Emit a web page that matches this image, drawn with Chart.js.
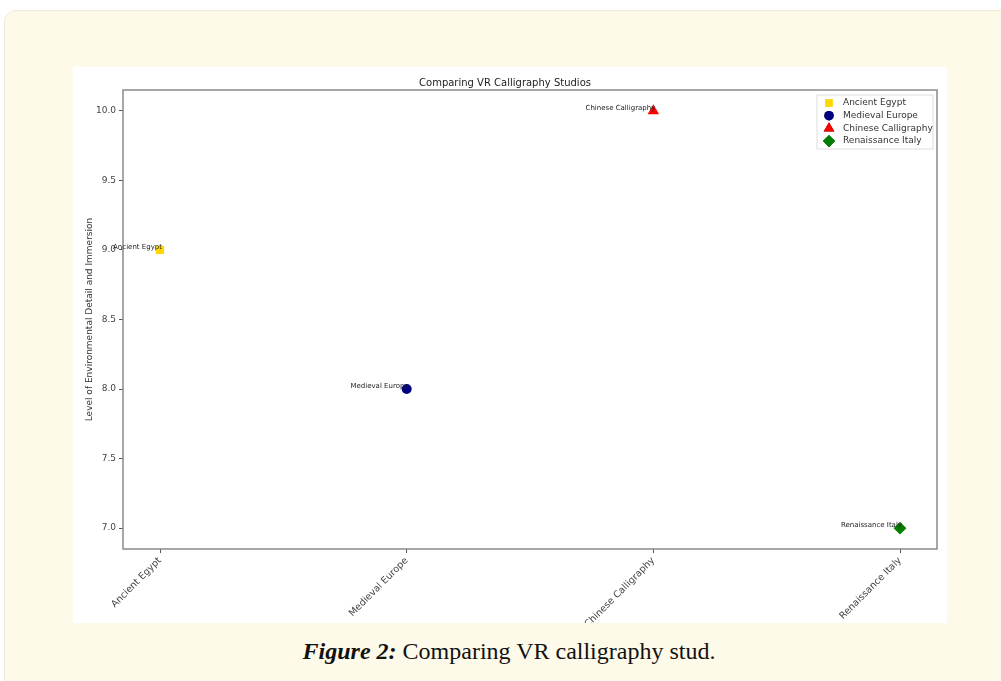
<!DOCTYPE html>
<html>
<head>
<meta charset="utf-8">
<script src="https://cdn.jsdelivr.net/npm/chart.js@4"></script>
<style>
    body { margin: 0; background: #fff; width: 1001px; height: 681px; overflow: hidden; position: relative; font-family: "DejaVu Sans", sans-serif; }
    #panel { position: absolute; left: 4px; top: 10px; width: 1100px; height: 800px; background: #fefae9; border: 1px solid #efead6; border-radius: 12px; }
    #figure { position: absolute; left: 73px; top: 67px; width: 874px; height: 556px; background: #fff; }
    #caption { position: absolute; left: 0; top: 638px; width: 1018px; text-align: center; font-family: "Liberation Serif", "DejaVu Serif", serif; font-size: 24px; color: #111; }
    #caption b { font-style: italic; }
</style>
</head>
<body>
<div id="panel"></div>
<div id="figure"><canvas id="chart" width="874" height="556"></canvas></div>
<div id="caption"><b>Figure 2:</b> Comparing VR calligraphy stud.</div>
<script>
const categories = ['Ancient Egypt', 'Medieval Europe', 'Chinese Calligraphy', 'Renaissance Italy'];
const immersion = [9, 8, 10, 7];
const markerStyles = ['rect', 'circle', 'triangle', 'rectRot'];
const markerColors = ['#ffd700', '#000080', '#ff0000', '#008000'];
const markerSizes = [5.8, 5, 6.6, 6.4];

const datasets = categories.map((name, i) => ({
    label: name,
    data: [{ x: i, y: immersion[i] }],
    pointStyle: markerStyles[i],
    pointRadius: markerSizes[i],
    pointHoverRadius: markerSizes[i],
    backgroundColor: markerColors[i],
    borderColor: markerColors[i],
    borderWidth: 0
}));

// frame round the plot, like matplotlib spines
const framePlugin = {
    id: 'frame',
    beforeDatasetsDraw(chart) {
        const { ctx, chartArea: a } = chart;
        ctx.save();
        ctx.strokeStyle = '#8a8a8a';
        ctx.lineWidth = 1.5;
        ctx.strokeRect(a.left, a.top, a.right - a.left, a.bottom - a.top);
        ctx.restore();
    }
};

// small name next to every point
const pointLabels = {
    id: 'pointLabels',
    afterDatasetsDraw(chart) {
        const ctx = chart.ctx;
        ctx.save();
        ctx.font = '7px "DejaVu Sans"';
        ctx.fillStyle = '#222';
        ctx.textAlign = 'right';
        ctx.textBaseline = 'bottom';
        chart.data.datasets.forEach((ds, i) => {
            const pt = chart.getDatasetMeta(i).data[0];
            ctx.fillText(ds.label, pt.x + 2, pt.y + 1);
        });
        ctx.restore();
    }
};

// legend box in the upper right corner of the plot
const cornerLegend = {
    id: 'cornerLegend',
    afterDraw(chart) {
        const { ctx, chartArea: a } = chart;
        const w = 116, h = 54, x0 = a.right - w - 4, y0 = a.top + 5;
        ctx.save();
        ctx.fillStyle = 'rgba(255,255,255,0.85)';
        ctx.strokeStyle = '#dddddd';
        ctx.lineWidth = 1;
        ctx.fillRect(x0, y0, w, h);
        ctx.strokeRect(x0, y0, w, h);
        ctx.font = '9px "DejaVu Sans"';
        ctx.textAlign = 'left';
        ctx.textBaseline = 'middle';
        chart.data.datasets.forEach((ds, i) => {
            const cy = y0 + 8 + i * 12.7;
            const cx = x0 + 12;
            Chart.helpers.drawPoint(ctx, {
                pointStyle: ds.pointStyle,
                radius: ds.pointRadius * 0.95,
                rotation: 0,
                borderWidth: 0
            }, cx, cy);
            ctx.fillStyle = ds.backgroundColor;
            ctx.fill();
            ctx.fillStyle = '#333';
            ctx.fillText(ds.label, x0 + 26, cy);
        });
        ctx.restore();
    }
};

new Chart(document.getElementById('chart'), {
    type: 'scatter',
    data: { datasets },
    plugins: [framePlugin, pointLabels, cornerLegend],
    options: {
        responsive: false,
        animation: false,
        layout: { padding: { left: 0, right: 10, top: 0, bottom: 0 } },
        plugins: {
            legend: { display: false },
            tooltip: { enabled: false },
            title: {
                display: true,
                text: 'Comparing VR Calligraphy Studios',
                color: '#222',
                font: { family: 'DejaVu Sans', size: 10, weight: 'normal' },
                padding: { top: 10, bottom: 1 }
            }
        },
        scales: {
            x: {
                type: 'linear',
                min: -0.15,
                max: 3.15,
                afterFit(scale) { scale.height = 74; },
                border: { display: false },
                grid: { display: true, drawOnChartArea: false, drawTicks: true, tickLength: 4, color: '#555' },
                ticks: {
                    stepSize: 1,
                    includeBounds: false,
                    minRotation: 45,
                    maxRotation: 45,
                    autoSkip: false,
                    color: '#444',
                    padding: 2,
                    font: { family: 'DejaVu Sans', size: 9.5 },
                    callback: v => Number.isInteger(v) ? categories[v] : ''
                }
            },
            y: {
                min: 6.85,
                max: 10.15,
                afterFit(scale) { scale.width = 50; },
                border: { display: false },
                grid: { display: true, drawOnChartArea: false, drawTicks: true, tickLength: 4, color: '#555' },
                ticks: {
                    stepSize: 0.5,
                    includeBounds: false,
                    color: '#444',
                    padding: 3,
                    font: { family: 'DejaVu Sans', size: 9 },
                    callback: v => v.toFixed(1)
                },
                title: {
                    display: true,
                    text: 'Level of Environmental Detail and Immersion',
                    color: '#333',
                    font: { family: 'DejaVu Sans', size: 9 },
                    padding: { top: 11, bottom: 0 }
                }
            }
        }
    }
});
</script>
</body>
</html>
